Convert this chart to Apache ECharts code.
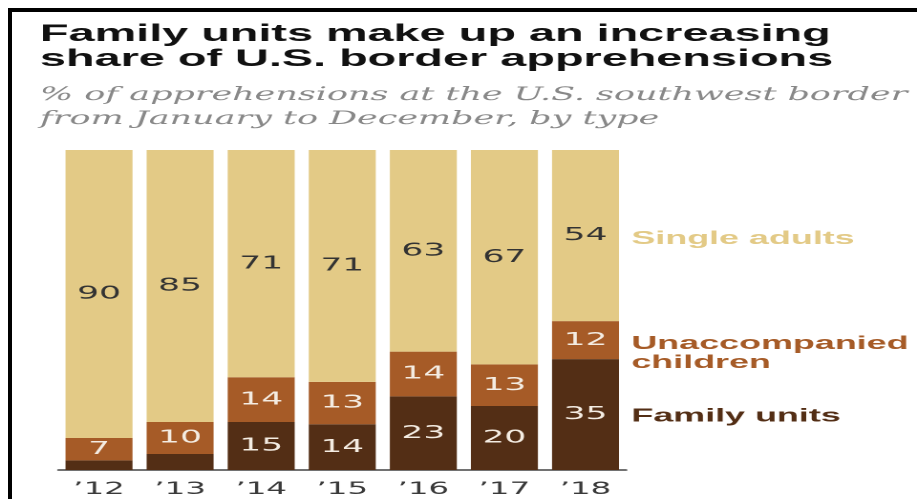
<!DOCTYPE html>
<html>
<head>
<meta charset="utf-8">
<script src="https://cdn.jsdelivr.net/npm/echarts@6/dist/echarts.min.js"></script>
<style>
  html, body { margin: 0; padding: 0; background: #fff; overflow: hidden; width: 917px; height: 499px; }
  #wrap { position: absolute; left: 0; top: 0; width: 917px; height: 499px; overflow: hidden; }
  #c { position: absolute; left: 0; top: 0; width: 480px; height: 499px; transform: scaleX(1.9104); transform-origin: 0 0; }
  #frame { position: absolute; left: 8px; top: 8px; width: 917px; height: 499px; border-left: 4px solid #000; border-top: 4px solid #000; pointer-events: none; }
</style>
</head>
<body>
<div id="wrap">
  <div id="c"></div>
  <div id="frame"></div>
</div>
<script>
const years = ['\u201912', '\u201913', '\u201914', '\u201915', '\u201916', '\u201917', '\u201918'];
const familyUnits   = [3, 5, 15, 14, 23, 20, 35];
const unaccompanied = [7, 10, 14, 13, 14, 13, 12];
const singleAdults  = [90, 85, 71, 71, 63, 67, 54];
const seriesNames = ['Family units', 'Unaccompanied\nchildren', 'Single adults'];
const seriesColors = ['#532e15', '#a65b27', '#e3ca86'];
const labelColors = ['#f4ece2', '#f4ece2', '#333333'];
const legendOffsets = [[0, 2], [0, 13], [0, 3.5]];

const raw = [familyUnits, unaccompanied, singleAdults];
const totals = years.map((_, i) => raw.reduce((s, arr) => s + arr[i], 0));
const shares = raw.map(arr => arr.map((v, i) => v / totals[i] * 100));
const last = years.length - 1;

const series = raw.map((arr, k) => {
  let below = 0;
  for (let j = 0; j < k; j++) below += shares[j][last];
  const mid = below + shares[k][last] / 2;
  return {
    name: seriesNames[k],
    type: 'bar',
    stack: 'total',
    barWidth: '82.6%',
    itemStyle: { color: seriesColors[k] },
    data: arr.map((v, i) => ({ value: shares[k][i], raw: v })),
    label: {
      show: true,
      position: 'inside',
      color: labelColors[k],
      fontFamily: 'DejaVu Sans',
      fontSize: 18,
      formatter: p => (p.data.raw < 6 ? '' : String(p.data.raw))
    },
    markPoint: {
      silent: true,
      symbol: 'circle',
      symbolSize: 0,
      data: [{ coord: [years[last], mid] }],
      label: {
        show: true,
        position: 'right',
        distance: 24,
        offset: legendOffsets[k],
        formatter: seriesNames[k],
        color: seriesColors[k],
        fontFamily: 'Liberation Sans',
        fontWeight: 'bold',
        fontSize: 18.8,
        lineHeight: 19,
        align: 'left'
      }
    }
  };
});

const chart = echarts.init(document.getElementById('c'), null, { devicePixelRatio: 2 });
chart.setOption({
  animation: false,
  backgroundColor: '#ffffff',
  title: [
    {
      text: 'Family units make up an increasing\nshare of U.S. border apprehensions',
      left: 20.9, top: 21.5, padding: 0,
      textStyle: { fontFamily: 'Liberation Sans', fontWeight: 'bold', fontSize: 24.5, lineHeight: 25.3, color: '#111111' }
    },
    {
      text: '% of apprehensions at the U.S. southwest border\nfrom January to December, by type',
      left: 20.9, top: 83.5, padding: 0,
      textStyle: { fontFamily: 'DejaVu Serif', fontStyle: 'italic', fontWeight: 'normal', fontSize: 18.3, lineHeight: 24, color: '#888888' }
    }
  ],
  grid: { left: 30.6, right: 152.3, top: 150, bottom: 29, containLabel: false },
  xAxis: {
    type: 'category',
    data: years,
    axisLine: { show: true, lineStyle: { color: '#444', width: 1.5 } },
    axisTick: { show: false },
    axisLabel: { color: '#3a3a3a', fontFamily: 'DejaVu Sans', fontSize: 17, margin: 11 }
  },
  yAxis: { type: 'value', min: 0, max: 100, show: false, splitLine: { show: false } },
  series: series
});
</script>
</body>
</html>
